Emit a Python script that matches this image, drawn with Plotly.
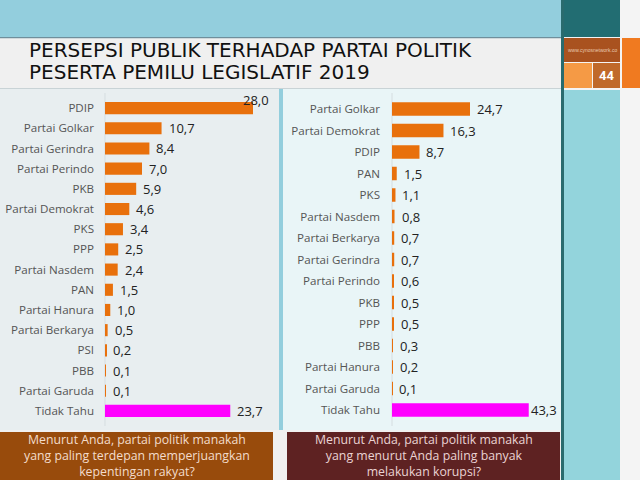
import plotly.graph_objects as go

# ---------------- data ----------------
left_parties = ["PDIP", "Partai Golkar", "Partai Gerindra", "Partai Perindo", "PKB",
                "Partai Demokrat", "PKS", "PPP", "Partai Nasdem", "PAN", "Partai Hanura",
                "Partai Berkarya", "PSI", "PBB", "Partai Garuda", "Tidak Tahu"]
left_values = [28.0, 10.7, 8.4, 7.0, 5.9, 4.6, 3.4, 2.5, 2.4, 1.5, 1.0, 0.5, 0.2, 0.1, 0.1, 23.7]

right_parties = ["Partai Golkar", "Partai Demokrat", "PDIP", "PAN", "PKS", "Partai Nasdem",
                 "Partai Berkarya", "Partai Gerindra", "Partai Perindo", "PKB", "PPP", "PBB",
                 "Partai Hanura", "Partai Garuda", "Tidak Tahu"]
right_values = [24.7, 16.3, 8.7, 1.5, 1.1, 0.8, 0.7, 0.7, 0.6, 0.5, 0.5, 0.3, 0.2, 0.1, 43.3]

title_lines = ["PERSEPSI PUBLIK TERHADAP PARTAI POLITIK", "PESERTA PEMILU LEGISLATIF 2019"]
left_question = ["Menurut Anda, partai politik manakah",
                 "yang paling terdepan memperjuangkan",
                 "kepentingan rakyat?"]
right_question = ["Menurut Anda, partai politik manakah",
                  "yang menurut Anda paling banyak",
                  "melakukan korupsi?"]
site_text = "www.cynosnetwork.co"
page_number = "44"

# ---------------- helpers ----------------
W, H = 640, 480
def px(x):
    return x / W
def py(y):
    return 1 - y / H

ORANGE = "#E8700C"
MAGENTA = "#FF00FF"

def colors(names):
    return [MAGENTA if n == "Tidak Tahu" else ORANGE for n in names]

def fmt(v):
    return f"{v:.1f}".replace(".", ",")

fig = go.Figure()

fig.add_trace(go.Bar(x=left_values, y=left_parties, orientation="h",
                     marker=dict(color=colors(left_parties), line=dict(width=0)),
                     width=0.6, xaxis="x", yaxis="y", hoverinfo="skip"))
fig.add_trace(go.Bar(x=right_values, y=right_parties, orientation="h",
                     marker=dict(color=colors(right_parties), line=dict(width=0)),
                     width=0.62, xaxis="x2", yaxis="y2", hoverinfo="skip"))

shapes = []
def rect(x0, y0, x1, y1, color, layer="below"):
    shapes.append(dict(type="rect", xref="paper", yref="paper",
                       x0=px(x0), x1=px(x1), y0=py(y1), y1=py(y0),
                       fillcolor=color, line=dict(width=0), layer=layer))

# page background pieces
rect(0, 0, 640, 480, "#F4F4F4")
rect(0, 0, 561, 37, "#93CEDD")                  # header band
rect(0, 37, 561, 38.5, "#6F8F9C")               # header bottom line
rect(0, 38.5, 561, 88, "#F0F0F0")               # title area
rect(0, 88, 561, 89, "#C9D3D6")
rect(0, 89, 279, 430, "#E8EEF0")                # left panel
rect(279, 89, 283, 430, "#93CEDD")              # separator
rect(283, 89, 561, 430, "#E9F5F7")              # right panel
rect(0, 430, 561, 480, "#F0F0F0")
rect(0, 432, 273, 480, "#984B0C")               # left question box
rect(287, 432, 560, 480, "#5E2222")             # right question box
rect(561, 0, 564, 480, "#2A6B6E")               # dark teal vertical line
rect(564, 0, 620, 37, "#226D72")                # teal block
rect(564, 38, 620, 62, "#A9521F")               # site box
rect(564, 63, 592, 88, "#F59A45")               # orange small box
rect(593, 63, 620, 88, "#C0692A")               # number box
rect(622, 38, 640, 88, "#F07A20")               # right orange box
rect(564, 90, 620, 480, "#93D4DC")              # cyan column

# plot domains (pixel based)
L_x0, L_x1 = 105, 278
L_top, L_bot = 98, 421
R_x0, R_x1 = 392, 560
R_top, R_bot = 98.25, 420.75
L_scale = 148 / 28.0
R_scale = 78 / 24.7

annotations = []
for t, yc in zip(title_lines, [49.5, 72]):
    annotations.append(dict(text=t, xref="paper", yref="paper", x=px(27), y=py(yc),
                            xanchor="left", yanchor="middle", showarrow=False,
                            font=dict(family="DejaVu Sans", size=20, color="#111111")))

annotations.append(dict(text=site_text, xref="paper", yref="paper", x=px(592), y=py(50),
                        xanchor="center", yanchor="middle", showarrow=False,
                        font=dict(family="Liberation Sans Narrow, Liberation Sans", size=5, color="#E8C8B0")))
annotations.append(dict(text="<b>" + page_number + "</b>", xref="paper", yref="paper", x=px(606.5), y=py(75.5),
                        xanchor="center", yanchor="middle", showarrow=False,
                        font=dict(family="Roboto", size=13, color="#FFFFFF")))

val_font = dict(family="Open Sans", size=13, color="#222222")
lmax = max(left_values)
for name, v in zip(left_parties, left_values):
    if v == lmax:
        annotations.append(dict(text=fmt(v), x=v, y=name, xref="x", yref="y",
                                xanchor="right", yanchor="middle", xshift=18, yshift=8,
                                showarrow=False, font=val_font))
    else:
        annotations.append(dict(text=fmt(v), x=v, y=name, xref="x", yref="y",
                                xanchor="left", yanchor="middle", xshift=5,
                                showarrow=False, font=val_font))
for name, v in zip(right_parties, right_values):
    shift = 0 if name == "Tidak Tahu" else 5
    annotations.append(dict(text=fmt(v), x=v, y=name, xref="x2", yref="y2",
                            xanchor="left", yanchor="middle", xshift=shift,
                            showarrow=False, font=val_font))

for lines, xc, col in [(left_question, 136.5, "#F3DCCB"), (right_question, 423.5, "#EAD3D3")]:
    annotations.append(dict(text="<br>".join(lines), xref="paper", yref="paper", x=px(xc), y=py(455.5),
                            xanchor="center", yanchor="middle", showarrow=False, align="center",
                            font=dict(family="Open Sans", size=12.3, color=col)))

tick_font = dict(family="Open Sans", size=11.6, color="#555555")

fig.update_layout(
    width=W, height=H, margin=dict(l=0, r=0, t=0, b=0),
    paper_bgcolor="#F4F4F4", plot_bgcolor="rgba(0,0,0,0)",
    showlegend=False, shapes=shapes, annotations=annotations,
    xaxis=dict(domain=[px(L_x0), px(L_x1)], range=[0, (L_x1 - L_x0) / L_scale],
               visible=False, fixedrange=True),
    yaxis=dict(domain=[py(L_bot), py(L_top)], anchor="x", autorange=False,
               range=[len(left_parties) - 0.5, -0.5], type="category",
               categoryorder="array", categoryarray=left_parties,
               showgrid=False, zeroline=False, showline=False,
               ticks="", tickfont=tick_font, ticklabelstandoff=10),
    xaxis2=dict(domain=[px(R_x0), px(R_x1)], range=[0, (R_x1 - R_x0) / R_scale],
                visible=False, fixedrange=True, anchor="y2"),
    yaxis2=dict(domain=[py(R_bot), py(R_top)], anchor="x2", autorange=False,
                range=[len(right_parties) - 0.5, -0.5], type="category",
                categoryorder="array", categoryarray=right_parties,
                showgrid=False, zeroline=False, showline=False,
                ticks="", tickfont=tick_font, ticklabelstandoff=11),
)

# faint baseline lines at bar start
for x0, top, bot in [(L_x0, 93, 426), (R_x0, 93, 426)]:
    fig.add_shape(type="line", xref="paper", yref="paper", x0=px(x0), x1=px(x0),
                  y0=py(bot), y1=py(top), line=dict(color="#D5DDE0", width=1), layer="below")

fig.write_html("out.html")
